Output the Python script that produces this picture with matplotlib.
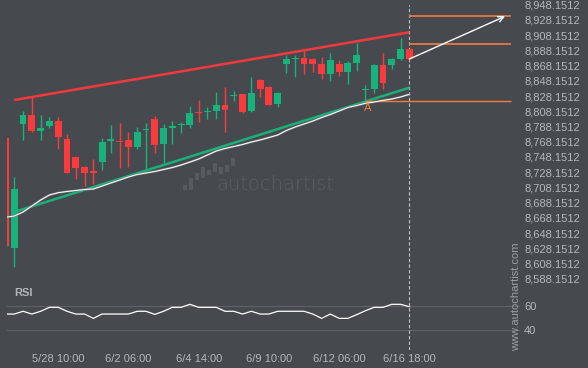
import matplotlib
matplotlib.use("Agg")
import matplotlib.pyplot as plt
from matplotlib.patches import Rectangle
import numpy as np

# ---------------- data ----------------
opens = [8772.6, 8628.9, 8791.8, 8803.2, 8782.6, 8789.2, 8795.3, 8771.3, 8748.0, 8735.3,
         8728.7, 8741.9, 8769.7, 8768.7, 8770.4, 8761.6, 8783.4, 8798.0, 8765.5, 8787.0,
         8790.6, 8790.1, 8807.2, 8807.7, 8808.9, 8816.6, 8828.7, 8830.2, 8808.2, 8849.2,
         8840.0, 8818.1, 8870.5, 8877.3, 8877.9, 8876.4, 8870.0, 8857.4, 8870.0, 8860.1,
         8871.8, 8836.6, 8837.4, 8868.9, 8868.9, 8876.8, 8889.7]
highs = [8774.0, 8721.4, 8808.5, 8826.5, 8802.8, 8800.2, 8801.0, 8777.9, 8748.7, 8736.2,
         8745.0, 8772.6, 8789.7, 8792.3, 8781.5, 8787.9, 8793.1, 8801.9, 8791.0, 8795.3,
         8794.4, 8814.7, 8822.9, 8813.1, 8832.8, 8839.6, 8834.8, 8830.8, 8852.5, 8850.1,
         8841.3, 8832.8, 8881.7, 8881.7, 8887.0, 8878.4, 8878.8, 8884.4, 8875.2, 8874.2,
         8897.4, 8842.0, 8870.2, 8885.3, 8877.5, 8904.0, 8890.2]
lows = [8630.0, 8603.1, 8770.0, 8780.5, 8770.0, 8786.5, 8758.2, 8727.0, 8718.7, 8709.5,
        8711.9, 8731.6, 8752.9, 8734.2, 8734.9, 8758.9, 8730.6, 8753.9, 8739.5, 8764.5,
        8779.2, 8785.5, 8794.4, 8797.6, 8797.6, 8781.3, 8821.4, 8806.2, 8807.6, 8827.3,
        8816.0, 8813.1, 8858.8, 8853.6, 8857.7, 8860.1, 8849.9, 8848.3, 8855.1, 8843.3,
        8861.0, 8821.4, 8831.5, 8838.0, 8863.3, 8875.5, 8875.5]
closes = [8631.5, 8706.0, 8803.2, 8782.6, 8785.7, 8795.3, 8774.7, 8727.4, 8734.0, 8727.4,
          8727.9, 8767.7, 8770.8, 8767.7, 8761.6, 8780.9, 8784.2, 8764.2, 8786.1, 8787.7,
          8791.3, 8806.1, 8806.4, 8808.5, 8816.6, 8810.2, 8829.5, 8807.2, 8831.9, 8838.0,
          8816.3, 8832.1, 8876.5, 8878.1, 8870.5, 8870.5, 8857.4, 8875.5, 8860.1, 8871.3,
          8882.1, 8837.1, 8868.9, 8845.7, 8876.8, 8889.7, 8876.8]
ma_values = [8668.8, 8670.5, 8675.8, 8683.7, 8691.5, 8698.1, 8701.1, 8702.7, 8704.0, 8705.3,
             8706.0, 8709.9, 8713.9, 8717.8, 8721.8, 8725.0, 8727.0, 8729.0, 8731.6, 8734.2,
             8737.5, 8741.4, 8745.4, 8750.7, 8755.9, 8759.2, 8761.8, 8764.5, 8767.7, 8770.4,
             8773.6, 8776.9, 8782.9, 8787.5, 8791.4, 8795.3, 8799.9, 8803.9, 8808.5, 8813.1,
             8815.7, 8818.6, 8820.3, 8822.5, 8824.2, 8826.9, 8830.4]
rsi_values = [53.3, 53.3, 55.6, 53.3, 55.6, 58.9, 58.9, 55.6, 53.3, 53.3,
              49.7, 53.3, 53.3, 53.3, 53.3, 55.6, 55.6, 53.0, 55.6, 58.9,
              58.9, 61.4, 58.9, 58.9, 58.9, 55.6, 55.6, 53.3, 55.6, 53.3,
              53.3, 55.6, 55.6, 55.6, 55.6, 53.3, 49.7, 53.3, 49.7, 49.7,
              52.8, 56.1, 58.9, 58.9, 61.4, 61.4, 59.4]

resistance_x = [1, 46]
resistance_y = [8822.9, 8911.9]
support_x = [1.35, 46]
support_y = [8677.1, 8839.1]
level_top = 8932.9
level_mid = 8896.1
level_low = 8821.6
level_low_start = 41
arrow_start = (46, 8876.8)
arrow_end = (56.9, 8932.9)
label_A = (41.3, 8812.4)

xtick_idx = [6, 14, 22, 30, 38, 46]
xtick_labels = ["5/28 10:00", "6/2 06:00", "6/4 14:00", "6/9 10:00", "6/12 06:00", "6/16 18:00"]
ytick_vals = [8588.1512 + 20 * k for k in range(19)]
rsi_ticks = [40, 60]

# ---------------- style ----------------
BG = "#464a4f"
GREEN = "#18b37d"
RED = "#fa3b3e"
ORANGE = "#f27d3c"
TXT = "#b4b7bb"
W, H = 588, 368

fig = plt.figure(figsize=(W / 100, H / 100), dpi=100, facecolor=BG)
plt.rcParams['font.family'] = ['Liberation Sans', 'DejaVu Sans']

def px_axes(x0, y0, x1, y1):
    return fig.add_axes([x0 / W, 1 - y1 / H, (x1 - x0) / W, (y1 - y0) / H])

ax = px_axes(7, 0, 520, 284)
rx = px_axes(7, 284, 520, 350)
for a in (ax, rx):
    a.set_facecolor(BG)
    for s in a.spines.values():
        s.set_visible(False)

XMIN, XMAX = 0.169, 58.6
ax.set_xlim(XMIN, XMAX)
ax.set_ylim(8954.33 - 1.314 * 284, 8954.33)
rx.set_xlim(XMIN, XMAX)
rx.set_ylim(40 - (350 - 330) / 1.2, 60 + (306 - 284) / 1.2)

# candles
n = len(opens)
idx = np.arange(n)
bw = 0.78
for i in idx:
    o, h, l, c = opens[i], highs[i], lows[i], closes[i]
    col = GREEN if c >= o else RED
    ax.vlines(i, l, h, color=col, lw=1.0, zorder=3)
    bottom = min(o, c)
    height = max(abs(c - o), 1.6)
    if abs(c - o) < 1.6:
        bottom = (o + c) / 2 - 0.8
    ax.add_patch(Rectangle((i - bw / 2, bottom), bw, height, facecolor=col,
                           edgecolor='none', zorder=4))

# trend lines
ax.plot(resistance_x, resistance_y, color="#f2393d", lw=1.8, zorder=5, solid_capstyle='butt')
ax.plot(support_x, support_y, color="#1ab07b", lw=1.8, zorder=5, solid_capstyle='butt')
ax.plot(idx, ma_values, color="#7d8085", lw=1.5, zorder=5)
ax.plot(idx, ma_values, color="white", lw=0.7, zorder=6)

# levels
ax.hlines(level_top, 46, 57.6, color=ORANGE, lw=1.2, zorder=5)
ax.hlines(level_mid, 46, 57.6, color=ORANGE, lw=1.2, zorder=5)
ax.hlines(level_low, level_low_start, 57.6, color=ORANGE, lw=1.0, zorder=5)
ax.text(label_A[0], label_A[1], "A", color=ORANGE, fontsize=8, ha='center', va='center', zorder=6)
ax.annotate("", xy=arrow_end, xytext=arrow_start,
            arrowprops=dict(arrowstyle='->', color='white', lw=1.0,
                            shrinkA=0, shrinkB=0, mutation_scale=10), zorder=7)

# dashed vertical line
ax.axvline(46, ymax=1 - 4.7 / 284, color="#c0c3c7", lw=0.8, ls=(0, (3, 2)), zorder=2)
rx.axvline(46, color="#c0c3c7", lw=0.8, ls=(0, (3, 2)), zorder=2)

# axes ticks
ax.set_xticks([])
ax.yaxis.tick_right()
ax.set_yticks(ytick_vals)
ax.set_yticklabels([f"{v:,.4f}" for v in ytick_vals])
ax.tick_params(axis='y', length=0, pad=3, labelsize=8, labelcolor=TXT)

rx.yaxis.tick_right()
rx.set_yticks(rsi_ticks)
rx.set_yticklabels([str(v) for v in rsi_ticks])
rx.tick_params(axis='y', length=0, pad=3, labelsize=8, labelcolor=TXT)
rx.set_xticks(xtick_idx)
rx.set_xticklabels(xtick_labels)
rx.tick_params(axis='x', length=0, pad=3, labelsize=8, labelcolor=TXT)
for v in rsi_ticks:
    rx.axhline(v, color="#5e6268", lw=0.8, zorder=1)
rx.plot(idx, rsi_values, color="white", lw=0.9, zorder=4)
rx.text(0.015, 0.86, "RSI", transform=rx.transAxes, color=TXT, fontsize=8,
        fontweight='bold', ha='left', va='center')

# watermark
fig.text(216 / W, 1 - 185 / H, "autochartist", color="#5a5e63", fontsize=14,
         ha='left', va='center', family='DejaVu Sans', fontweight='light')
logo_bars = [(185, 185, 190), (191, 178, 190), (197, 173, 180), (203, 167, 178),
             (209, 170, 175), (215, 163, 172), (221, 167, 174), (227, 165, 172), (233, 158, 166)]
for bx, yt, yb in logo_bars:
    fig.add_artist(Rectangle((bx / W - 1.7 / W, 1 - yb / H), 3.4 / W, (yb - yt) / H,
                             transform=fig.transFigure, facecolor="#575b60",
                             edgecolor='none'))
fig.text(516 / W, 1 - 297 / H, "www.autochartist.com", rotation=90, color="#9c9fa4",
         fontsize=8, ha='center', va='center')

fig.savefig("out.png", dpi=100, facecolor=BG)
